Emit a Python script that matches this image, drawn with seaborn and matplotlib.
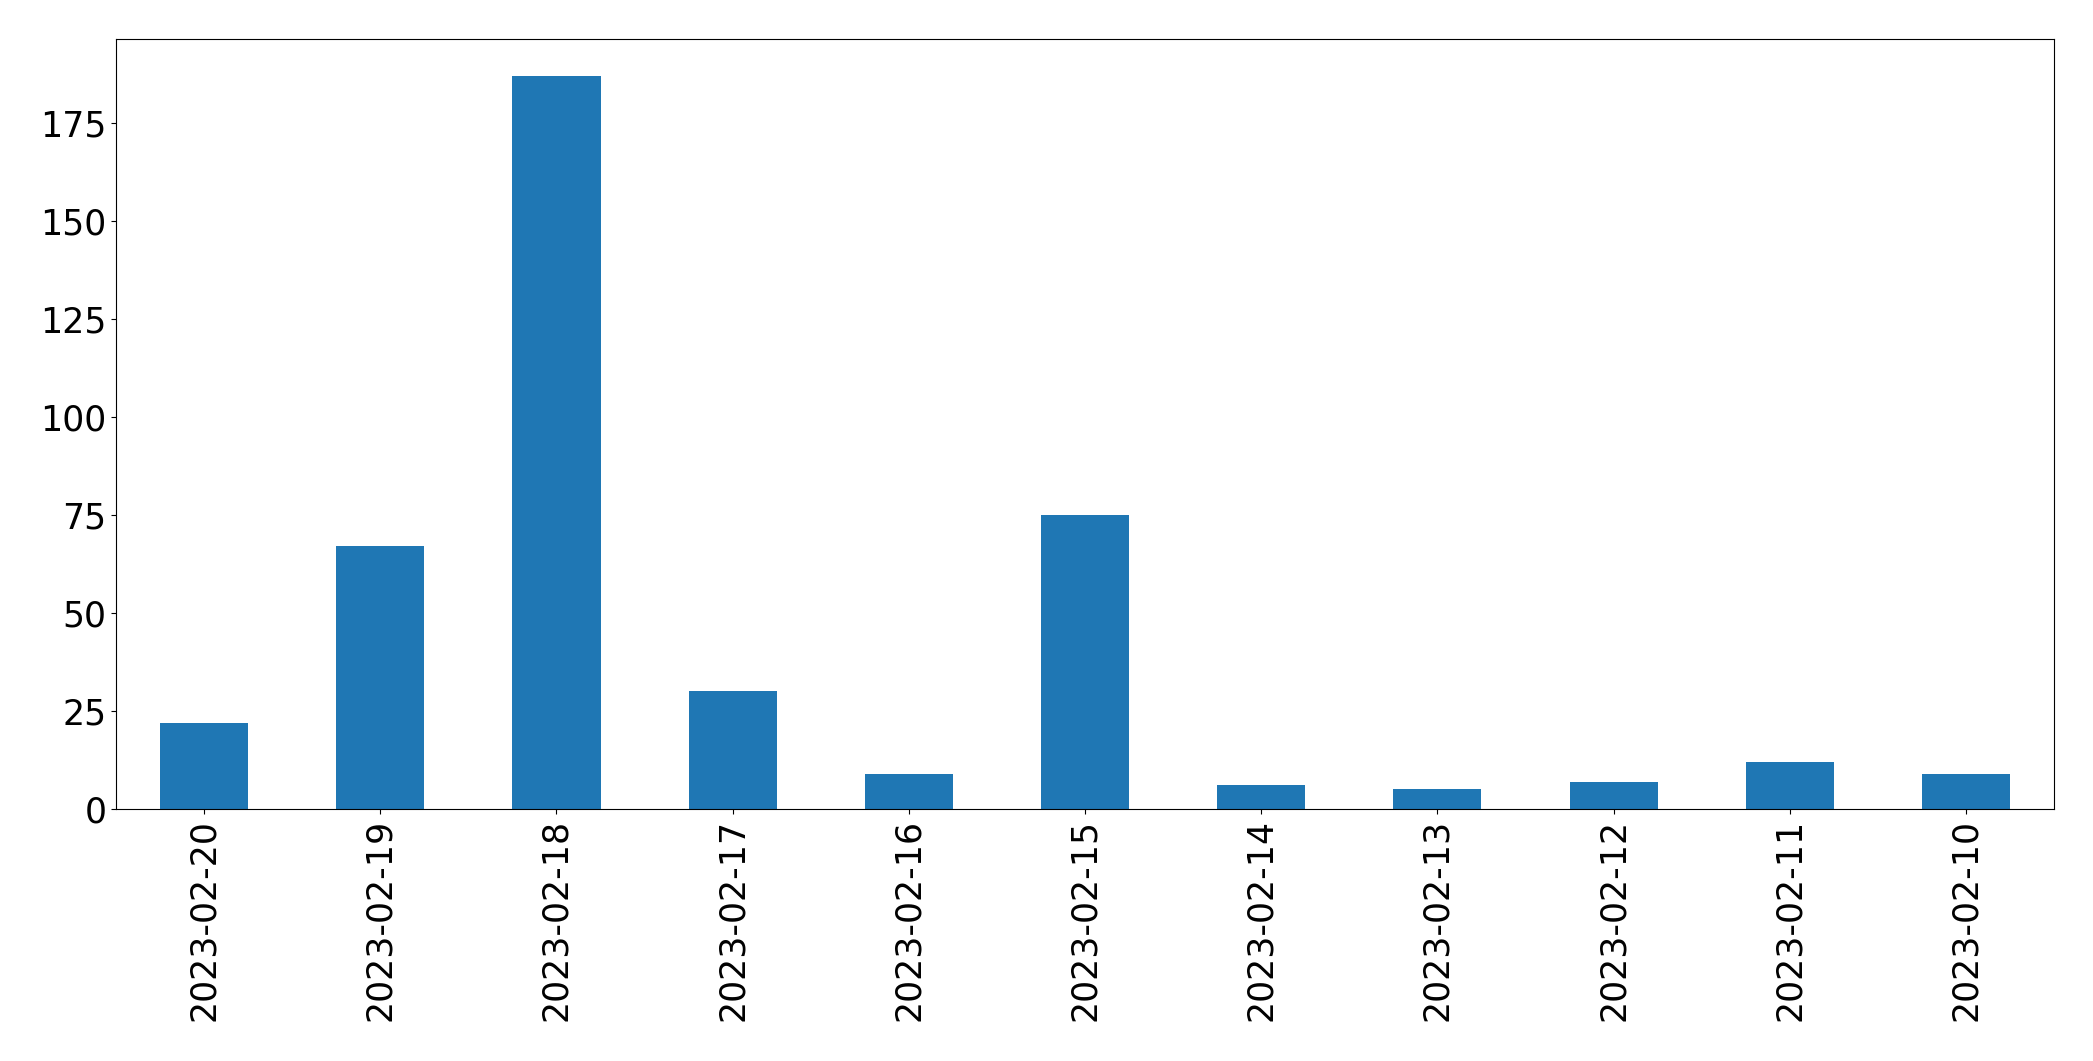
import matplotlib
matplotlib.use("Agg")
import matplotlib.pyplot as plt
import seaborn as sns
import pandas as pd

dates = ["2023-02-20", "2023-02-19", "2023-02-18", "2023-02-17", "2023-02-16",
         "2023-02-15", "2023-02-14", "2023-02-13", "2023-02-12", "2023-02-11",
         "2023-02-10"]
counts = [22, 67, 187, 30, 9, 75, 6, 5, 7, 12, 9]

df = pd.DataFrame({"date": dates, "count": counts})

fig = plt.figure(figsize=(20.93, 10.61), dpi=100)
ax = fig.add_axes([116 / 2093, 1 - 809 / 1061, (2054 - 116) / 2093, (809 - 39) / 1061])
sns.barplot(data=df, x="date", y="count", order=dates, color="#1f77b4",
            saturation=1, width=0.5, ax=ax)
ax.set_xlim(-0.5, len(dates) - 0.5)
ax.set_ylim(0, max(counts) * 1.05)
ax.set_xlabel("")
ax.set_ylabel("")
ax.tick_params(axis="both", labelsize=25)
ax.tick_params(axis="x", rotation=90)
for s in ax.spines.values():
    s.set_color("black")
fig.savefig("out.png", dpi=100)
